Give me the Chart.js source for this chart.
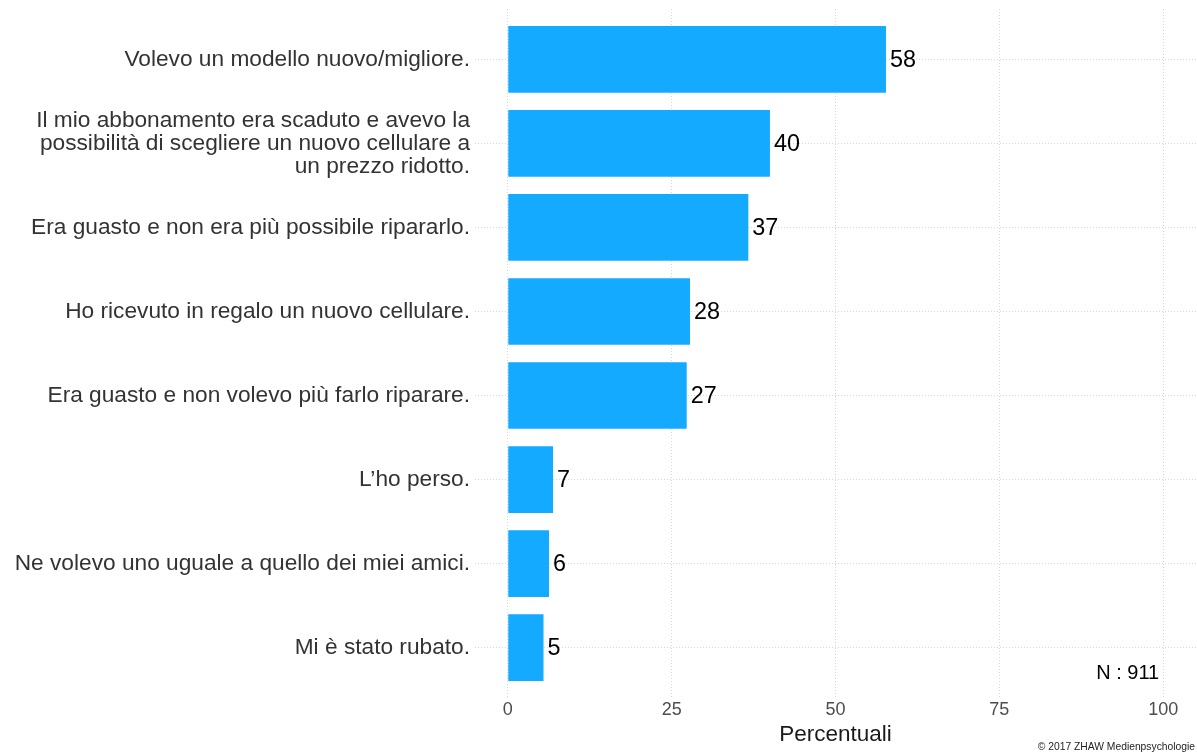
<!DOCTYPE html>
<html>
<head>
<meta charset="utf-8">
<script src="https://cdn.jsdelivr.net/npm/chart.js@4"></script>
<style>
  html, body { margin: 0; padding: 0; background: #fff; }
  #wrap { width: 1197px; height: 754px; }
</style>
</head>
<body>
<div id="wrap"><canvas id="grafico"></canvas></div>
<script>
// motivi per cambiare cellulare (percentuali)
const categorie = [
    'Volevo un modello nuovo/migliore.',
    ['Il mio abbonamento era scaduto e avevo la', 'possibilità di scegliere un nuovo cellulare a', 'un prezzo ridotto.'],
    'Era guasto e non era più possibile ripararlo.',
    'Ho ricevuto in regalo un nuovo cellulare.',
    'Era guasto e non volevo più farlo riparare.',
    'L\u2019ho perso.',
    'Ne volevo uno uguale a quello dei miei amici.',
    'Mi è stato rubato.'
];
const percentuali = [57.7, 40.0, 36.7, 27.8, 27.3, 6.9, 6.3, 5.45];
const tickX = [0, 25, 50, 75, 100];
const nota = 'N : 911';
const copyright = '\u00A9 2017 ZHAW Medienpsychologie';

const FONT = '"Liberation Sans", Arial, Helvetica, sans-serif';

// scritte: valori accanto alle barre, N e copyright
const etichette = {
    id: 'etichette',
    afterDatasetsDraw(chart) {
        const ctx = chart.ctx;
        const meta = chart.getDatasetMeta(0);
        ctx.save();
        ctx.fillStyle = '#000';
        ctx.font = '23.4px ' + FONT;
        ctx.textAlign = 'left';
        ctx.textBaseline = 'middle';
        meta.data.forEach((bar, i) => {
            ctx.fillText(String(Math.round(percentuali[i])), bar.x + 4, bar.y + 1);
        });
        const x100 = chart.scales.x.getPixelForValue(100);
        ctx.textAlign = 'right';
        ctx.font = '20px ' + FONT;
        ctx.fillText(nota, x100 - 4, 673);
        ctx.font = '10.3px ' + FONT;
        ctx.fillStyle = '#222';
        ctx.fillText(copyright, 1195, 747);
        ctx.restore();
    }
};

new Chart(document.getElementById('grafico'), {
    type: 'bar',
    data: {
        datasets: [{
            data: percentuali.map((v, i) => ({ x: v, y: i + 1 })),
            backgroundColor: '#14aaff',
            borderWidth: 0,
            barPercentage: 0.794,
            categoryPercentage: 1
        }]
    },
    options: {
        indexAxis: 'y',
        responsive: true,
        maintainAspectRatio: false,
        animation: false,
        layout: { padding: { top: 9, right: 1, left: 0, bottom: 0 } },
        plugins: {
            legend: { display: false },
            tooltip: { enabled: false }
        },
        scales: {
            x: {
                type: 'linear',
                min: -5,
                max: 105,
                afterBuildTicks: (scale) => { scale.ticks = tickX.map(v => ({ value: v })); },
                afterFit: (scale) => {
                    scale.height = 56;
                    scale.paddingLeft = 0;
                    scale.paddingRight = 0;
                },
                grid: { color: '#d6d6d6', lineWidth: 1, drawTicks: false },
                border: { display: false, dash: [1, 2] },
                ticks: {
                    color: '#4d4d4d',
                    font: { family: FONT, size: 18 },
                    padding: 1,
                    maxRotation: 0
                },
                title: {
                    display: true,
                    text: 'Percentuali',
                    color: '#1a1a1a',
                    font: { family: FONT, size: 22.5 },
                    padding: { top: 0, bottom: 6 }
                }
            },
            y: {
                type: 'linear',
                reverse: true,
                offset: false,
                min: 0.4,
                max: 8.6,
                afterBuildTicks: (scale) => { scale.ticks = categorie.map((c, i) => ({ value: i + 1 })); },
                afterFit: (scale) => {
                    scale.width = 475;
                    scale.paddingTop = 0;
                    scale.paddingBottom = 0;
                },
                grid: { color: '#d6d6d6', lineWidth: 1, drawTicks: false, offset: false },
                border: { display: false, dash: [1, 2] },
                ticks: {
                    color: '#333',
                    font: { family: FONT, size: 22.7, lineHeight: 1.02 },
                    padding: 5,
                    callback: (v) => categorie[v - 1]
                }
            }
        }
    },
    plugins: [etichette]
});
</script>
</body>
</html>
